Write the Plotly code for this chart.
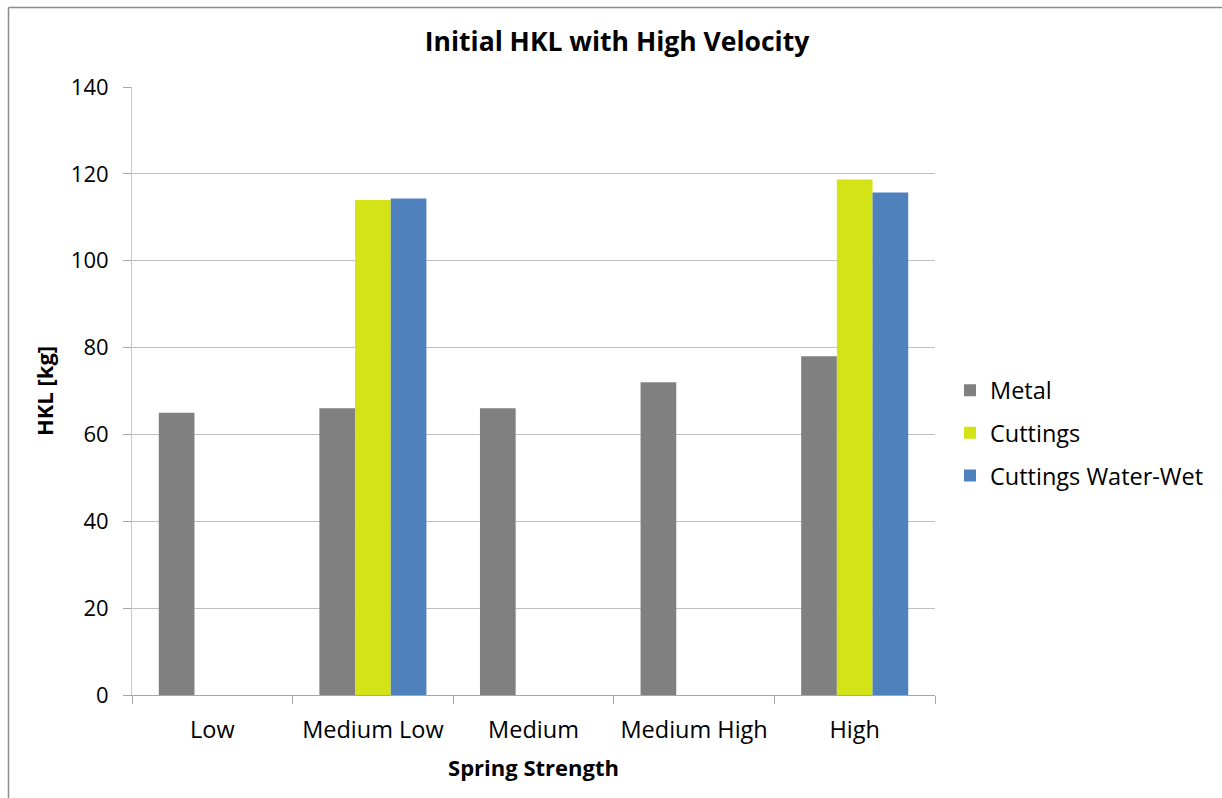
import plotly.graph_objects as go

# Spring strength categories and measured initial hookload (kg)
categories = ["Low", "Medium Low", "Medium", "Medium High", "High"]
metal = [65, 66, 66, 72, 78]
cuttings = [None, 114, None, None, 118.7]
cuttings_water_wet = [None, 114.3, None, None, 115.7]
y_ticks = [0, 20, 40, 60, 80, 100, 120, 140]

FONT = "Open Sans, Calibri, Carlito, sans-serif"

fig = go.Figure()
fig.add_trace(go.Bar(name="Metal", x=categories, y=metal, legendgroup="a",
                     marker=dict(color="#808080", line=dict(width=0))))
fig.add_trace(go.Bar(name="Cuttings", x=categories, y=cuttings, legendgroup="b",
                     marker=dict(color="#d4e316", line=dict(width=0))))
fig.add_trace(go.Bar(name="Cuttings Water-Wet", x=categories, y=cuttings_water_wet,
                     legendgroup="c",
                     marker=dict(color="#4f81bd", line=dict(width=0))))

L, R, T, B = 132, 287, 87, 103
W, H = 1222, 798
pw, ph = W - L - R, H - T - B

def px_x(x):
    return (x - L) / pw

def px_y(y):
    return (H - B - y) / ph

fig.update_layout(
    width=W, height=H,
    margin=dict(l=L, r=R, t=T, b=B),
    paper_bgcolor="white", plot_bgcolor="white",
    barmode="group", bargap=1/3, bargroupgap=0,
    font=dict(family=FONT, color="#000000"),
    title=dict(text="<b>Initial HKL with High Velocity</b>",
               x=px_x(617), xref="paper", xanchor="center",
               y=1 - 42 / H, yanchor="middle",
               font=dict(size=26.5, family=FONT)),
    xaxis=dict(
        type="category",
        showline=True, linecolor="#a6a6a6", linewidth=1,
        ticks="outside", ticklen=8, tickcolor="#a6a6a6", tickson="boundaries",
        tickfont=dict(size=23.5, family=FONT), ticklabelstandoff=14,
        title=dict(text="<b>Spring Strength</b>", font=dict(size=22, family=FONT), standoff=16),
        showgrid=False,
    ),
    yaxis=dict(
        range=[0, 140], tickvals=y_ticks,
        showline=True, linecolor="#c8c8c8", linewidth=1,
        ticks="outside", ticklen=8, tickcolor="#a6a6a6",
        tickfont=dict(size=22, family=FONT), ticklabelstandoff=10,
        showgrid=True, gridcolor="#bfbfbf", gridwidth=1,
        zeroline=False,
        title=dict(text="<b>HKL [kg]</b>", font=dict(size=22, family=FONT), standoff=11),
    ),
    legend=dict(
        x=px_x(950), xanchor="left", y=px_y(433), yanchor="middle",
        font=dict(size=23.5, family=FONT), bgcolor="rgba(0,0,0,0)",
        itemsizing="constant", tracegroupgap=9,
    ),
    shapes=[
        dict(type="line", xref="paper", yref="paper",
             x0=px_x(8.5), x1=px_x(W + 5), y0=px_y(7.5), y1=px_y(7.5),
             line=dict(color="#8c8c8c", width=1.5)),
        dict(type="line", xref="paper", yref="paper",
             x0=px_x(8.5), x1=px_x(8.5), y0=px_y(7.5), y1=px_y(H + 5),
             line=dict(color="#8c8c8c", width=1.5)),
    ],
)

fig.write_html("out.html")
